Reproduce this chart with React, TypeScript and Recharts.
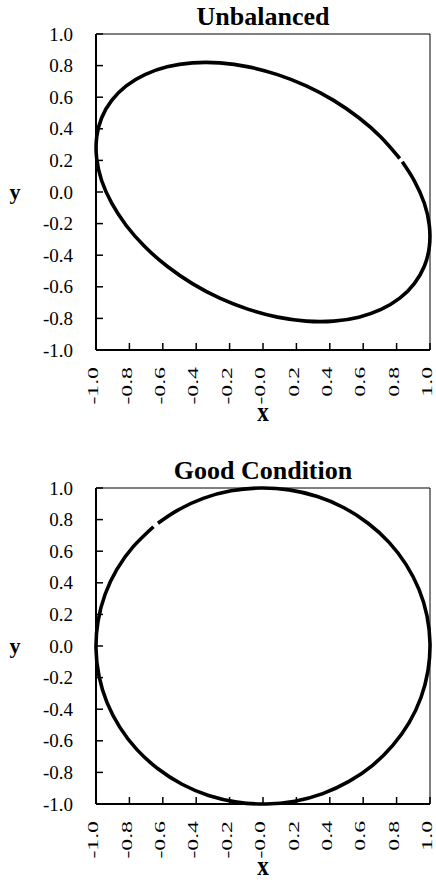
import React from 'react';
import { LineChart, Line, XAxis, YAxis, ReferenceLine } from 'recharts';

// ---- Data ----
const axisTicks = [-1, -0.8, -0.6, -0.4, -0.2, 0, 0.2, 0.4, 0.6, 0.8, 1];
const xTickLabels = ['-1.0', '-0.8', '-0.6', '-0.4', '-0.2', '-0.0', '0.2', '0.4', '0.6', '0.8', '1.0'];
const yTickLabels = ['-1.0', '-0.8', '-0.6', '-0.4', '-0.2', '0.0', '0.2', '0.4', '0.6', '0.8', '1.0'];

const titles = ['Unbalanced', 'Good Condition'];

const unbalancedX = [
  0.819, 0.707, 0.574, 0.423, 0.259, 0.087, -0.087, -0.259, -0.423, -0.574, -0.707, -0.819,
  -0.906, -0.966, -0.996, -0.996, -0.966, -0.906, -0.819, -0.707, -0.574, -0.423, -0.259, -0.087,
  0.087, 0.259, 0.423, 0.574, 0.707, 0.819, 0.906, 0.966, 0.996, 0.996, 0.966, 0.906, 0.834,
];
const unbalancedY = [
  0.212, 0.347, 0.47, 0.58, 0.672, 0.743, 0.792, 0.817, 0.817, 0.792, 0.743, 0.672,
  0.58, 0.47, 0.347, 0.212, 0.071, -0.071, -0.212, -0.347, -0.47, -0.58, -0.672, -0.743,
  -0.792, -0.817, -0.817, -0.792, -0.743, -0.672, -0.58, -0.47, -0.347, -0.212, -0.071, 0.071, 0.191,
];

const circleX = [
  -0.656, -0.777, -0.875, -0.946, -0.988, -1.0, -0.982, -0.934, -0.857, -0.755, -0.629, -0.485,
  -0.326, -0.156, 0.017, 0.191, 0.358, 0.515, 0.656, 0.777, 0.875, 0.946, 0.988, 1.0,
  0.982, 0.934, 0.857, 0.755, 0.629, 0.485, 0.326, 0.156, -0.017, -0.191, -0.358, -0.515, -0.629,
];
const circleY = [
  0.755, 0.629, 0.485, 0.326, 0.156, -0.017, -0.191, -0.358, -0.515, -0.656, -0.777, -0.875,
  -0.946, -0.988, -1.0, -0.982, -0.934, -0.857, -0.755, -0.629, -0.485, -0.326, -0.156, 0.017,
  0.191, 0.358, 0.515, 0.656, 0.777, 0.875, 0.946, 0.988, 1.0, 0.982, 0.934, 0.857, 0.777,
];

const unbalancedData = unbalancedX.map((x, i) => ({ x, y: unbalancedY[i] }));
const circleData = circleX.map((x, i) => ({ x, y: circleY[i] }));

const FONT = 'Liberation Serif, DejaVu Serif, serif';
const fontStyle = { fontFamily: FONT };

const XTick = (props: any) => {
  const { x, y, index } = props;
  return (
    <g>
      <line x1={x} y1={y} x2={x} y2={y - 7} stroke="#000" strokeWidth={1.5} />
      <text
        transform={`translate(${x},${y + 17}) rotate(-90) scale(1.25,0.8)`}
        textAnchor="end"
        dy="0.15em"
        fontSize={19}
        style={fontStyle}
        fill="#000"
      >
        {xTickLabels[index]}
      </text>
    </g>
  );
};

const YTick = (props: any) => {
  const { x, y, index } = props;
  return (
    <g>
      <line x1={x} y1={y} x2={x + 7} y2={y} stroke="#000" strokeWidth={1.5} />
      <text x={x - 23} y={y} dy="0.35em" textAnchor="end" fontSize={19} style={fontStyle} fill="#000">
        {yTickLabels[index]}
      </text>
    </g>
  );
};

const Panel = ({ data, title, top }: { data: { x: number; y: number }[]; title: string; top: number }) => (
  <div style={{ position: 'absolute', left: 0, top, width: 436, height: 426 }}>
    <LineChart width={436} height={426} data={data} margin={{ top: 34, right: 6, left: 0, bottom: 0 }}>
      <XAxis
        type="number"
        dataKey="x"
        domain={[-1, 1]}
        ticks={axisTicks}
        tick={<XTick />}
        tickLine={false}
        tickSize={0}
        tickMargin={0}
        height={76}
        interval={0}
        axisLine={{ stroke: '#000', strokeWidth: 2 }}
      />
      <YAxis
        type="number"
        dataKey="y"
        domain={[-1, 1]}
        ticks={axisTicks}
        tick={<YTick />}
        tickLine={false}
        tickSize={0}
        tickMargin={0}
        width={96}
        interval={0}
        axisLine={{ stroke: '#000', strokeWidth: 2 }}
      />
      <ReferenceLine y={1} stroke="#000" strokeWidth={1} />
      <ReferenceLine x={1} stroke="#000" strokeWidth={1} />
      <Line
        dataKey="y"
        type="natural"
        stroke="#000"
        strokeWidth={3.6}
        strokeLinecap="butt"
        dot={false}
        activeDot={false}
        isAnimationActive={false}
      />
    </LineChart>
    <svg width={436} height={426} style={{ position: 'absolute', left: 0, top: 0, pointerEvents: 'none' }}>
      <text x={263} y={25} textAnchor="middle" fontSize={26} fontWeight="bold" style={fontStyle} fill="#000">
        {title}
      </text>
      <text x={15} y={199} textAnchor="middle" fontSize={22} fontWeight="bold" style={fontStyle} fill="#000">
        y
      </text>
      <text
        transform="translate(263,421) scale(1,1.2)"
        textAnchor="middle"
        fontSize={23}
        fontWeight="bold"
        style={fontStyle}
        fill="#000"
      >
        x
      </text>
    </svg>
  </div>
);

export default function App() {
  return (
    <div
      style={{
        position: 'absolute',
        left: 0,
        top: 0,
        width: 436,
        height: 880,
        overflow: 'hidden',
        background: '#fff',
      }}
    >
      <Panel data={unbalancedData} title={titles[0]} top={0} />
      <Panel data={circleData} title={titles[1]} top={454} />
    </div>
  );
}
